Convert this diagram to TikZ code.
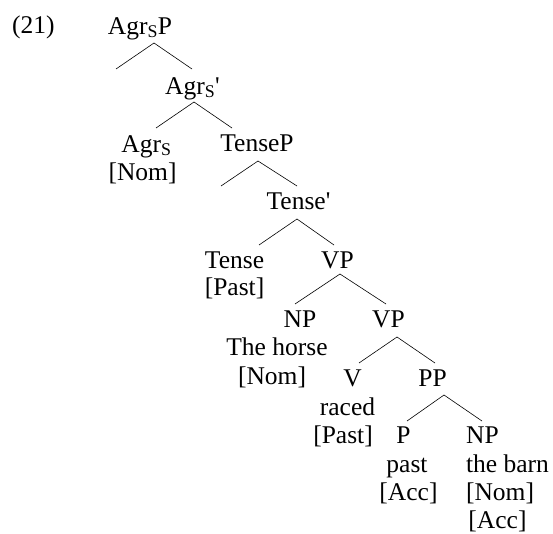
\documentclass[tikz,border=0pt]{standalone}
\usepackage{fontspec}
\setmainfont{Liberation Serif}
\newcommand{\pr}{\textquotesingle}
\begin{document}
\begin{tikzpicture}[x=1pt,y=1pt,
  lbl/.style={anchor=base,inner sep=0pt,font=\fontsize{25.5}{28}\selectfont},
  edge/.style={line width=0.6pt}]
\useasboundingbox (0,0) rectangle (553,-533);
\node[lbl,anchor=base west] (num) at (12,-33) {(21)};
\node[lbl] (agrsp) at (140,-34) {Agr\textsubscript{S}P};
\node[lbl] (agrsbar) at (192.5,-94) {Agr\textsubscript{S}\pr};
\node[lbl] (agrs) at (146.5,-152) {Agr\textsubscript{S}};
\node[lbl] (agrsf) at (142.5,-180) {[Nom]};
\node[lbl] (tensep) at (257,-151) {TenseP};
\node[lbl] (tensebar) at (298.5,-209) {Tense\pr};
\node[lbl] (tense) at (234.5,-268) {Tense};
\node[lbl] (tensef) at (234.5,-295) {[Past]};
\node[lbl] (vpa) at (337.5,-268) {VP};
\node[lbl] (npa) at (300,-327) {NP};
\node[lbl] (npaw) at (277,-355) {The horse};
\node[lbl] (npaf) at (272,-384) {[Nom]};
\node[lbl] (vpb) at (388.5,-327) {VP};
\node[lbl] (v) at (352.5,-386) {V};
\node[lbl] (vw) at (347.5,-415) {raced};
\node[lbl] (vf) at (343,-443) {[Past]};
\node[lbl] (pp) at (432.5,-386) {PP};
\node[lbl] (p) at (403.5,-443) {P};
\node[lbl] (pw) at (407,-472) {past};
\node[lbl] (pf) at (408.5,-500) {[Acc]};
\node[lbl] (npb) at (482.5,-443) {NP};
\node[lbl] (npbw) at (507.5,-472) {the barn};
\node[lbl] (npbf1) at (500,-500) {[Nom]};
\node[lbl] (npbf2) at (497.5,-528) {[Acc]};
\coordinate (specA) at (116,-69);
\coordinate (specT) at (221,-186);
% connectors
\draw[edge] (specA) -- ([xshift=14pt,yshift=-9pt]agrsp.base) -- ([xshift=-0.5pt,yshift=25pt]agrsbar.base);
\draw[edge] ([xshift=9.5pt,yshift=24pt]agrs.base) -- ([xshift=1.5pt,yshift=-8pt]agrsbar.base) -- ([xshift=-25pt,yshift=23pt]tensep.base);
\draw[edge] (specT) -- ([xshift=1pt,yshift=-10pt]tensep.base) -- ([xshift=-1.5pt,yshift=23pt]tensebar.base);
\draw[edge] ([xshift=24.5pt,yshift=23pt]tense.base) -- ([xshift=-1.5pt,yshift=-10pt]tensebar.base) -- ([xshift=-3.5pt,yshift=23pt]vpa.base);
\draw[edge] ([xshift=-5pt,yshift=23pt]npa.base) -- ([xshift=2.5pt,yshift=-6pt]vpa.base) -- ([xshift=-2.5pt,yshift=23pt]vpb.base);
\draw[edge] ([xshift=6.5pt,yshift=23pt]v.base) -- ([xshift=8.5pt,yshift=-10pt]vpb.base) -- ([xshift=2.5pt,yshift=23pt]pp.base);
\draw[edge] ([xshift=3.5pt,yshift=22pt]p.base) -- ([xshift=11.5pt,yshift=-9pt]pp.base) -- ([xshift=-0.5pt,yshift=22pt]npb.base);
\end{tikzpicture}
\end{document}
